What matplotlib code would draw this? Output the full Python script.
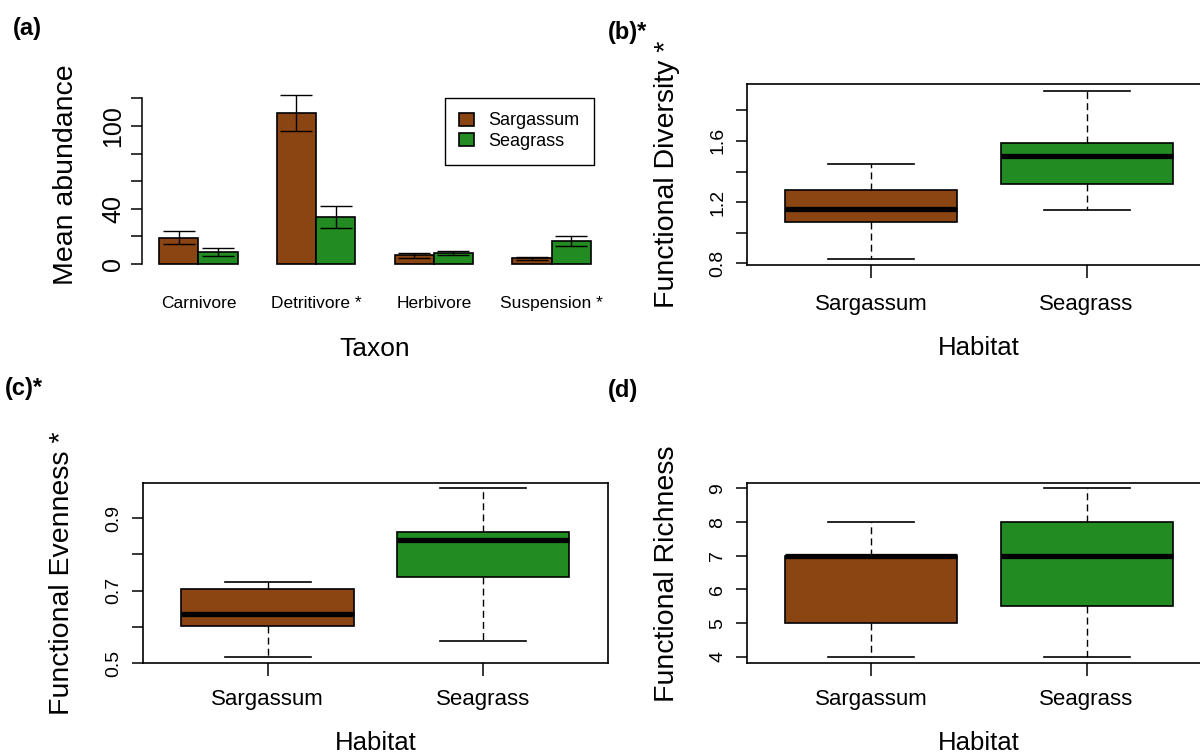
import matplotlib
matplotlib.use('Agg')
import matplotlib.pyplot as plt
import numpy as np

plt.rcParams['font.family'] = ['Liberation Sans', 'DejaVu Sans']

# ---------------- data ----------------
taxa = ['Carnivore', 'Detritivore *', 'Herbivore', 'Suspension *']
habitats = ['Sargassum', 'Seagrass']
sarg_mean = [19.0, 109.5, 6.2, 4.0]
sarg_se = [4.8, 12.9, 1.8, 0.9]
seag_mean = [8.7, 34.2, 8.1, 16.8]
seag_se = [2.7, 8.0, 1.3, 3.6]

# boxplot summaries: (lower whisker, Q1, median, Q3, upper whisker)
fd_sargassum = [0.828, 1.067, 1.152, 1.280, 1.452]
fd_seagrass = [1.146, 1.319, 1.502, 1.589, 1.928]
fe_sargassum = [0.517, 0.602, 0.635, 0.704, 0.725]
fe_seagrass = [0.562, 0.738, 0.840, 0.863, 0.983]
fr_sargassum = [4, 5, 7, 7, 8]
fr_seagrass = [4, 5.5, 7, 8, 9]

abund_ticks = [0, 20, 40, 60, 80, 100, 120]
abund_labels = ['0', '', '40', '', '', '100', '']
fd_ticks = [0.8, 1.0, 1.2, 1.4, 1.6, 1.8]
fd_labels = ['0.8', '', '1.2', '', '1.6', '']
fe_ticks = [0.5, 0.6, 0.7, 0.8, 0.9]
fe_labels = ['0.5', '', '0.7', '', '0.9']
fr_ticks = [4, 5, 6, 7, 8, 9]
fr_labels = ['4', '5', '6', '7', '8', '9']

sarg_col = '#8B4513'
seag_col = '#228B22'
colors = [sarg_col, seag_col]

W, H = 1200, 756
fig = plt.figure(figsize=(W / 100, H / 100), dpi=100)
fig.patch.set_facecolor('white')


def add_axes_px(left, top, right, bottom):
    return fig.add_axes([left / W, 1 - bottom / H, (right - left) / W, (bottom - top) / H])


def px_to_pt(px):
    return px * 0.72


# ---------------- panel (a) ----------------
a_left, a_top, a_right, a_bottom = 141.9, 77.3, 608.0, 271.2
ax = add_axes_px(a_left, a_top, a_right, a_bottom)
g = np.arange(len(taxa)) * 3
ekw = dict(elinewidth=1.0, capthick=1.0, ecolor='black')
ax.bar(g + 1.5, sarg_mean, width=1.0, color=sarg_col, edgecolor='black', linewidth=1.2,
       yerr=sarg_se, capsize=11.5, error_kw=ekw, label=habitats[0])
ax.bar(g + 2.5, seag_mean, width=1.0, color=seag_col, edgecolor='black', linewidth=1.2,
       yerr=seag_se, capsize=11.5, error_kw=ekw, label=habitats[1])
ax.set_xlim(0.56, 12.44)
ax.set_ylim(-5.2, 135.2)
for s in ['top', 'right', 'bottom']:
    ax.spines[s].set_visible(False)
ax.spines['left'].set_bounds(0, 120)
ax.spines['left'].set_linewidth(1.1)
ax.set_yticks(abund_ticks)
ax.set_yticklabels(abund_labels, rotation=90, va='center')
ax.tick_params(axis='y', length=8, width=1.1, pad=4, labelsize=18)
ax.set_xticks(g + 2)
ax.set_xticklabels(taxa)
ax.tick_params(axis='x', length=0, labelsize=12.5,
               pad=px_to_pt(296.0 - a_bottom))
ax.set_xlabel('Taxon', fontsize=19, va='center')
ax.xaxis.set_label_coords(0.5, (a_bottom - 349.0) / (a_bottom - a_top))
ax.set_ylabel('Mean abundance', fontsize=20.5, va='center')
ax.yaxis.set_label_coords((66 - a_left) / (a_right - a_left), 0.5)
leg = ax.legend(loc='upper right', bbox_to_anchor=(594 / W, 1 - 98 / H),
                bbox_transform=fig.transFigure, frameon=True, fancybox=False,
                edgecolor='black', framealpha=1, fontsize=13, handlelength=0.83,
                handleheight=0.72, handletextpad=0.8, borderpad=0.8,
                labelspacing=0.2, borderaxespad=0)
leg.get_frame().set_linewidth(1.0)


# ---------------- box panels ----------------
def box_panel(left, top, right, bottom, sarg, seag, ylim, ticks, labels, ylabel,
              xlabel_y, xtick_top, ylabel_x):
    ax = add_axes_px(left, top, right, bottom)
    stats = []
    for name, v in zip(habitats, [sarg, seag]):
        stats.append(dict(label=name, whislo=v[0], q1=v[1], med=v[2], q3=v[3],
                          whishi=v[4], fliers=[]))
    bp = ax.bxp(stats, positions=[1, 2], widths=0.8, capwidths=0.4,
                patch_artist=True, showfliers=False,
                boxprops=dict(edgecolor='black', linewidth=1.2),
                medianprops=dict(color='black', linewidth=3.8, solid_capstyle='butt'),
                whiskerprops=dict(color='black', linewidth=1.0, linestyle=(0, (5, 3))),
                capprops=dict(color='black', linewidth=1.2))
    for patch, c in zip(bp['boxes'], colors):
        patch.set_facecolor(c)
    ax.set_xlim(0.42, 2.58)
    ax.set_ylim(*ylim)
    for s in ax.spines.values():
        s.set_linewidth(1.2)
    ax.set_yticks(ticks)
    ax.set_yticklabels(labels, rotation=90, va='center')
    ax.tick_params(axis='y', length=8, width=1.1, pad=6.5, labelsize=14)
    ax.set_xticks([1, 2])
    ax.set_xticklabels(habitats)
    ax.tick_params(axis='x', length=9, width=1.1, labelsize=16,
                   pad=px_to_pt(xtick_top - bottom - 12.5))
    ax.set_xlabel('Habitat', fontsize=18.5, va='center')
    ax.xaxis.set_label_coords(0.5, (bottom - xlabel_y) / (bottom - top))
    ax.set_ylabel(ylabel, fontsize=20.5, va='center')
    ax.yaxis.set_label_coords((ylabel_x - left) / (right - left), 0.5)
    return ax


box_panel(746.6, 84.3, 1211.4, 265.0, fd_sargassum, fd_seagrass, (0.789, 1.970),
          fd_ticks, fd_labels, 'Functional Diversity *', 348.0, 294.0, 667)
box_panel(142.7, 483.0, 608.1, 663.3, fe_sargassum, fe_seagrass, (0.5, 0.997),
          fe_ticks, fe_labels, 'Functional Evenness *', 743.0, 688.5, 62)
box_panel(746.6, 483.3, 1211.4, 663.3, fr_sargassum, fr_seagrass, (3.81, 9.15),
          fr_ticks, fr_labels, 'Functional Richness', 743.0, 688.5, 667)

# ---------------- panel letters ----------------
for txt, x, y in [('(a)', 13, 28), ('(b)*', 608, 32), ('(c)*', 5, 388), ('(d)', 608, 390)]:
    fig.text(x / W, 1 - y / H, txt, fontsize=17, fontweight='bold', ha='left', va='center')

fig.savefig('out.png', dpi=100)
